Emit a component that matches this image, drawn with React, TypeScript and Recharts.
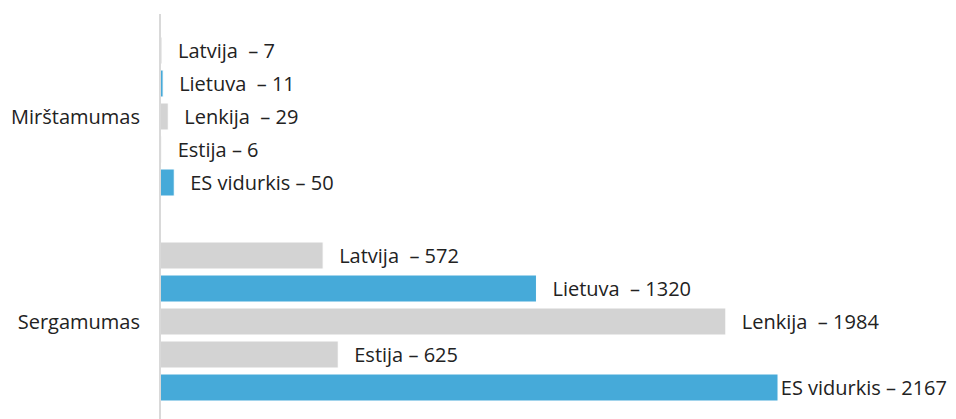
import { BarChart, Bar, XAxis, YAxis, LabelList } from 'recharts'

const categories = ['Mirštamumas', 'Sergamumas']
const seriesNames = ['Latvija', 'Lietuva', 'Lenkija', 'Estija', 'ES vidurkis']
const labelSeparators = ['\u00a0 – ', '\u00a0 – ', '\u00a0 – ', ' – ', ' – ']
const seriesColors = ['#d3d3d3', '#46aad9', '#d3d3d3', '#d3d3d3', '#46aad9']

const latvija = [7, 572]
const lietuva = [11, 1320]
const lenkija = [29, 1984]
const estija = [6, 625]
const esVidurkis = [50, 2167]

const seriesValues = [latvija, lietuva, lenkija, estija, esVidurkis]

const data = categories.map((name, i) => {
  const row: Record<string, string | number> = { name }
  seriesNames.forEach((s, j) => {
    row[s] = seriesValues[j][i]
  })
  return row
})

const FONT = '"Open Sans", "Noto Sans", sans-serif'
const FONT_SIZE = 20
const CHART_W = 948
// right-most x a label may reach (visible area ends a bit before the svg edge)
const LABEL_LIMIT = 939

// labels near the right edge get pulled in so they stay on the page
let measureCtx: CanvasRenderingContext2D | null = null
function textWidth(t: string) {
  if (!measureCtx) {
    measureCtx = document.createElement('canvas').getContext('2d')
    if (measureCtx) measureCtx.font = `${FONT_SIZE}px ${FONT}`
  }
  return measureCtx ? measureCtx.measureText(t).width : 0
}

function makeLabel(series: string, sep: string) {
  return function BarLabel(props: any) {
    const { x, y, width, height, value } = props
    const label = series + sep + value
    const lx = Math.min(Number(x) + Number(width) + 16, LABEL_LIMIT - textWidth(label))
    return (
      <text
        x={lx}
        y={Number(y) + Number(height) / 2}
        dominantBaseline="central"
        fill="#222"
        fontSize={FONT_SIZE}
        fontFamily={FONT}
      >
        {label}
      </text>
    )
  }
}

export default function App() {
  return (
    <div style={{ width: CHART_W, height: 430 }}>
      {/* chart runs past the bottom of the window, no scrollbars */}
      <style>{'html, body { overflow: hidden; }'}</style>
      <BarChart
        width={CHART_W}
        height={430}
        data={data}
        layout="vertical"
        margin={{ top: 6, right: 83, bottom: 14, left: 0 }}
        barSize={27}
        barGap={6}
      >
        <XAxis type="number" domain={[0, 2500]} hide />
        <YAxis
          type="category"
          dataKey="name"
          width={152}
          tickLine={false}
          tickSize={0}
          tickMargin={20}
          axisLine={{ stroke: '#d9d9d9', strokeWidth: 2 }}
          tick={{ fill: '#222', fontSize: FONT_SIZE, fontFamily: FONT }}
        />
        {seriesNames.map((s, j) => (
          <Bar
            key={s}
            dataKey={s}
            fill={seriesColors[j]}
            stroke="#ffffff"
            strokeWidth={1}
            isAnimationActive={false}
          >
            <LabelList dataKey={s} content={makeLabel(s, labelSeparators[j])} />
          </Bar>
        ))}
      </BarChart>
    </div>
  )
}
